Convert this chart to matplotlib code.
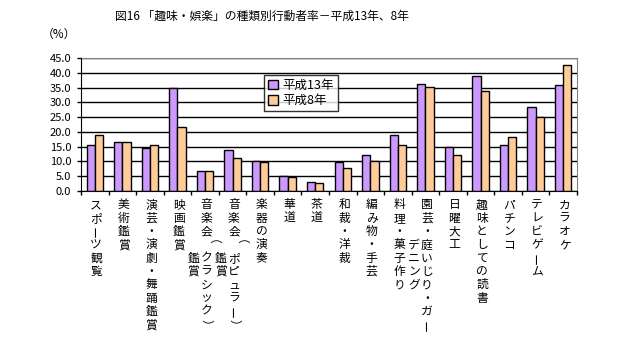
import matplotlib
matplotlib.use("Agg")
import matplotlib.pyplot as plt
import numpy as np

plt.rcParams['font.family'] = ['Noto Sans CJK JP', 'DejaVu Sans']

categories = [
    "スポーツ観覧", "美術鑑賞", "演芸・演劇・舞踊鑑賞", "映画鑑賞",
    "音楽会（クラシック）鑑賞", "音楽会（ポピュラー）鑑賞", "楽器の演奏",
    "華道", "茶道", "和裁・洋裁", "編み物・手芸", "料理・菓子作り",
    "園芸・庭いじり・ガーデニング", "日曜大工", "趣味としての読書",
    "パチンコ", "テレビゲーム", "カラオケ",
]
h13 = [15.4, 16.7, 14.7, 34.8, 6.6, 14.0, 10.3, 5.2, 2.9, 9.7,
       12.3, 18.8, 36.2, 14.9, 38.9, 15.4, 28.3, 35.9]
h8 = [19.1, 16.7, 15.7, 21.5, 6.6, 11.3, 9.7, 4.7, 2.6, 7.7,
      10.3, 15.7, 35.1, 12.1, 33.7, 18.2, 25.2, 42.5]
series_names = ["平成13年", "平成8年"]
yticks = np.arange(0, 46, 5)

purple = "#CC99FF"
orange = "#FFCC99"

fig = plt.figure(figsize=(6.17, 3.55), dpi=100)
ax = fig.add_axes([81 / 617, 1 - 191 / 355, 496 / 617, 133 / 355])

x = np.arange(len(categories))
w = 0.30
ax.bar(x - w / 2, h13, w, color=purple, edgecolor="black", linewidth=1,
       label=series_names[0], zorder=3)
ax.bar(x + w / 2, h8, w, color=orange, edgecolor="black", linewidth=1,
       label=series_names[1], zorder=3)

ax.set_xlim(-0.5, len(categories) - 0.5)
ax.set_ylim(0, 45)
ax.set_yticks(yticks)
ax.set_yticklabels([f"{v:.1f}" for v in yticks], fontsize=8)
ax.yaxis.grid(True, color="black", linewidth=1, zorder=0)
ax.tick_params(axis="y", length=3, width=1, pad=4, direction="out")

ax.set_xticks(np.arange(-0.5, len(categories)), minor=False)
ax.set_xticklabels([])
ax.tick_params(axis="x", length=3, width=1, direction="out")

for s in ["top", "right"]:
    ax.spines[s].set_color("#808080")
for s in ["left", "bottom"]:
    ax.spines[s].set_color("black")
    ax.spines[s].set_zorder(4)

# vertical (tategaki) category labels, 10 chars per column, columns right to left
trans = ax.get_xaxis_transform()
row0 = -0.105
pitch = 0.10
colstep = 0.47
for i, name in enumerate(categories):
    cols = [name[k:k + 10] for k in range(0, len(name), 10)]
    nrows = len(cols[0])
    for c, col in enumerate(cols):
        start = (nrows - len(col)) // 2
        for r, ch in enumerate(col):
            rot = 0
            if ch in "（）":
                rot = -90
            elif ch == "ー":
                rot = 90
            ax.text(i + 0.05 - c * colstep, row0 - (start + r) * pitch, ch,
                    transform=trans, ha="center", va="center", fontsize=8.5,
                    rotation=rot, rotation_mode="anchor")

leg = ax.legend(loc="upper left", bbox_to_anchor=(264 / 617, 1 - 75 / 355),
                bbox_transform=fig.transFigure, fontsize=9, frameon=True,
                fancybox=False, edgecolor="black", handlelength=0.8,
                handleheight=0.8, handletextpad=0.4, borderpad=0.3,
                labelspacing=0.2, borderaxespad=0)
leg.get_frame().set_linewidth(1)

fig.text(262 / 617, 1 - 16 / 355, "図16 「趣味・娯楽」の種類別行動者率－平成13年、8年",
         ha="center", va="center", fontsize=8.5)
fig.text(59 / 617, 1 - 34 / 355, "（%）", ha="center", va="center", fontsize=8.5)

fig.savefig("out.png", dpi=100)
